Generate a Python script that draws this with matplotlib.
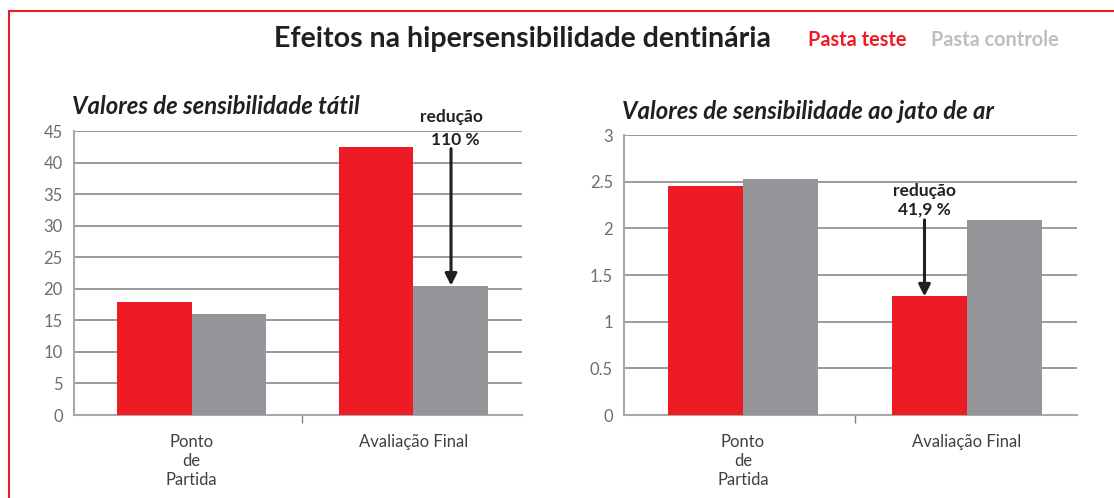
import matplotlib.pyplot as plt
from matplotlib.lines import Line2D

# Data
categories = ["Ponto\nde\nPartida", "Avaliação Final"]
tatil_teste = [17.9, 42.5]
tatil_controle = [16.0, 20.5]
jato_teste = [2.45, 1.27]
jato_controle = [2.53, 2.09]

RED = "#ed1c24"
GRAY = "#939598"
LIGHT = "#bcbec0"
TXT = "#231f20"

plt.rcParams['font.family'] = ['Lato', 'DejaVu Sans']

fig = plt.figure(figsize=(11.14, 4.98), dpi=100)

# red frame (right and bottom run off the picture)
fig.add_artist(Line2D([9/1114, 1.01], [1 - 11/498, 1 - 11/498], color=RED, lw=1.5))
fig.add_artist(Line2D([9/1114, 9/1114], [-0.01, 1 - 11/498], color=RED, lw=1.5))

fig.text(522/1114, 1 - 39/498, "Efeitos na hipersensibilidade dentinária",
         ha="center", va="center", fontsize=20.5, fontweight="bold", color=TXT)
fig.text(808/1114, 1 - 40/498, "Pasta teste", ha="left", va="center",
         fontsize=14.3, fontweight="bold", color=RED)
fig.text(931/1114, 1 - 40/498, "Pasta controle", ha="left", va="center",
         fontsize=14.3, fontweight="bold", color=LIGHT)


def draw_panel(rect, teste, controle, ymax, step, title, fmt):
    ax = fig.add_axes(rect)
    x = range(len(categories))
    w = 0.335
    ax.bar([i - w / 2 for i in x], teste, width=w, color=RED, zorder=3)
    ax.bar([i + w / 2 for i in x], controle, width=w, color=GRAY, zorder=3)
    ax.set_xlim(-0.53, 1.49)
    ax.set_ylim(0, ymax)
    ticks = [i * step for i in range(int(round(ymax / step)) + 1)]
    ax.set_yticks(ticks)
    ax.set_yticklabels([fmt(t) for t in ticks])
    ax.yaxis.grid(True, color="#8a8a8a", lw=1.2, zorder=0)
    for s in ["top", "right"]:
        ax.spines[s].set_visible(False)
    for s in ["left", "bottom"]:
        ax.spines[s].set_color("#a7a9ac")
        ax.spines[s].set_linewidth(1.5)
    ax.tick_params(axis="y", length=0, pad=8, labelsize=12, labelcolor="#6d6e71")
    ax.set_xticks([0, 1])
    ax.set_xticklabels(categories, fontsize=12, color="#414042", linespacing=1.2)
    ax.tick_params(axis="x", length=0, pad=14)
    ax.set_xticks([0.5], minor=True)
    ax.tick_params(axis="x", which="minor", length=6, color="#808285", width=1)
    ax.text(-0.005, 1.085, title, transform=ax.transAxes, ha="left", va="center",
            fontsize=17.2, fontweight="bold", style="italic", color=TXT)
    return ax


ax1 = draw_panel([74/1114, 83/498, 448/1114, 284/498], tatil_teste, tatil_controle,
                 45, 5, "Valores de sensibilidade tátil", lambda t: f"{t:g}")
ax1.annotate("", xy=(1 + 0.17, tatil_controle[1]), xytext=(1 + 0.17, 42.2),
             arrowprops=dict(arrowstyle="-|>,head_width=0.35,head_length=0.7",
                             color=TXT, lw=2.2, shrinkA=0, shrinkB=0), zorder=5)
ax1.text(1 + 0.17, 47.2, "redução", ha="center", va="center", fontsize=12.5,
         fontweight="bold", color=TXT, clip_on=False)
ax1.text(1 + 0.19, 43.6, "110 %", ha="center", va="center", fontsize=12.5,
         fontweight="bold", color=TXT, clip_on=False)

ax2 = draw_panel([624/1114, 83/498, 453/1114, 280/498], jato_teste, jato_controle,
                 3, 0.5, "Valores de sensibilidade ao jato de ar", lambda t: f"{t:g}")
ax2.annotate("", xy=(1 - 0.19, jato_teste[1]), xytext=(1 - 0.19, 2.09),
             arrowprops=dict(arrowstyle="-|>,head_width=0.35,head_length=0.7",
                             color=TXT, lw=2.2, shrinkA=0, shrinkB=0), zorder=5)
ax2.text(1 - 0.19, 2.40, "redução", ha="center", va="center", fontsize=12.5,
         fontweight="bold", color=TXT)
ax2.text(1 - 0.19, 2.20, "41,9 %", ha="center", va="center", fontsize=12.5,
         fontweight="bold", color=TXT)

fig.savefig("out.png", dpi=100)
